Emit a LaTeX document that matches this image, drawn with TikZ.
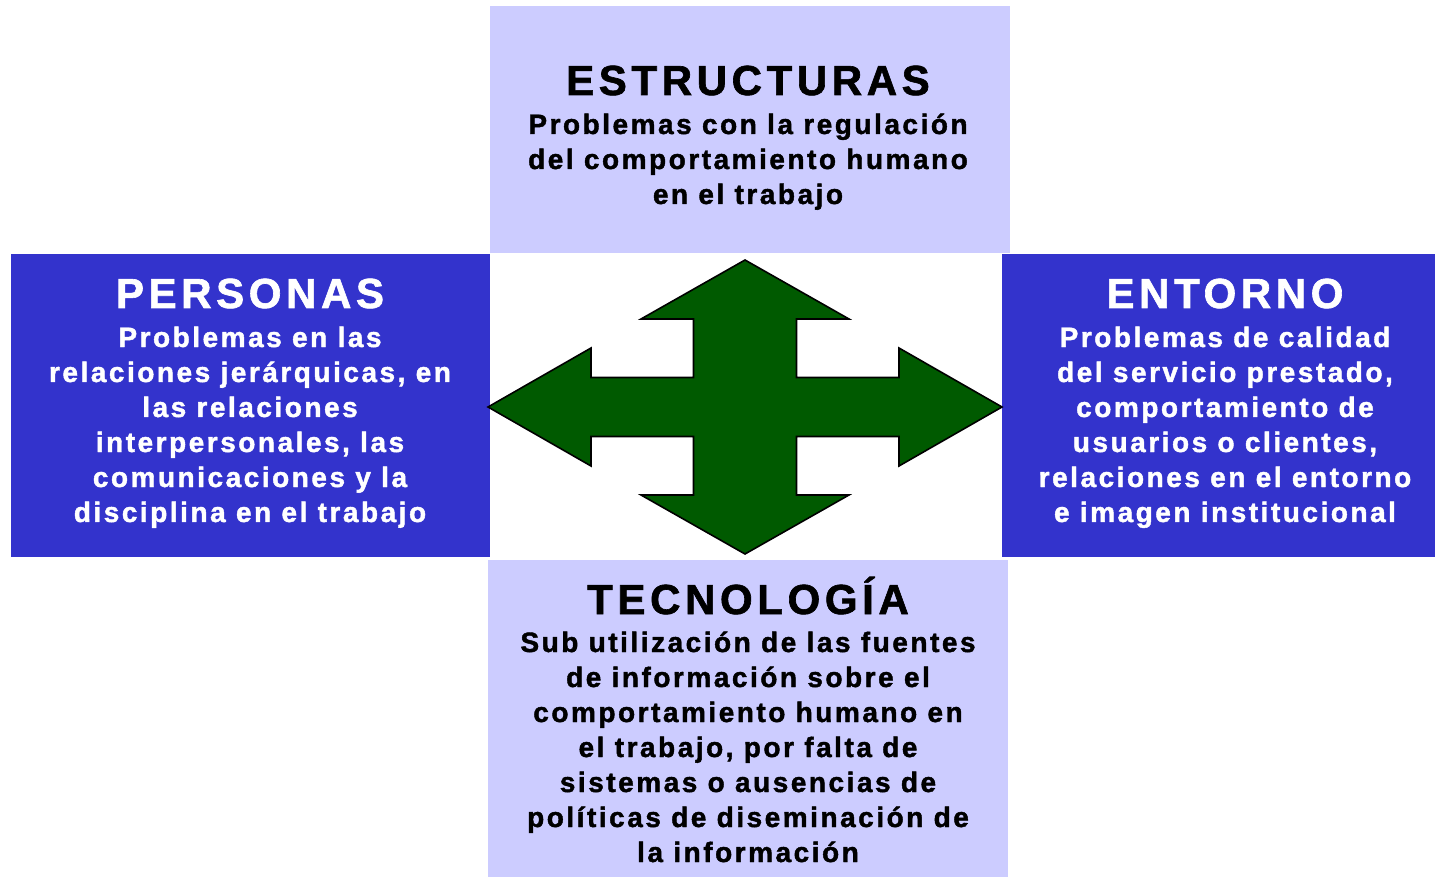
\documentclass[tikz,border=0pt]{standalone}
\usepackage{fontspec}
\setmainfont{Liberation Sans}
\newfontfamily\trk[LetterSpace=11,FakeBold=1.5]{Liberation Sans}
\newfontfamily\trkb[LetterSpace=9,FakeBold=1.5]{Liberation Sans}
\definecolor{lav}{RGB}{204,204,255}
\definecolor{blu}{RGB}{51,51,204}
\definecolor{grn}{RGB}{0,90,0}
\begin{document}
\begin{tikzpicture}[x=1pt,y=-1pt,
  box/.style={draw=none,inner sep=0pt,outer sep=0pt,anchor=north west},
  ttl/.style={anchor=base,inner sep=0pt,font=\trk\bfseries\fontsize{42}{42}\selectfont},
  bdy/.style={anchor=base,inner sep=0pt,font=\trkb\bfseries\fontsize{28}{35}\selectfont},
  arrowshape/.style={draw=black,line width=1.6pt,fill=grn,line join=miter}]
\useasboundingbox (0,0) rectangle (1435,877);
% boxes
\node[box,fill=lav,minimum width=520pt,minimum height=247pt] (estr) at (490,6) {};
\node[box,fill=blu,minimum width=479pt,minimum height=303pt] (pers) at (11,254) {};
\node[box,fill=blu,minimum width=433pt,minimum height=303pt] (ento) at (1002,254) {};
\node[box,fill=lav,minimum width=520pt,minimum height=317pt] (tecn) at (488,560) {};
% titles
\node[ttl,text=black] (estr-t) at (748,95) {ESTRUCTURAS};
\node[ttl,text=white] (pers-t) at (250,308) {PERSONAS};
\node[ttl,text=white] (ento-t) at (1225,308) {ENTORNO};
\node[ttl,text=black] (tecn-t) at (748,614) {TECNOLOGÍA};
% bodies
\node[bdy,text=black] (estr-b) at (748,134) {\parbox[t]{510pt}{\centering Problemas con la regulación\\del comportamiento humano\\en el trabajo}};
\node[bdy,text=white] (pers-b) at (250,347) {\parbox[t]{470pt}{\centering Problemas en las\\relaciones jerárquicas, en\\las relaciones\\interpersonales, las\\comunicaciones y la\\disciplina en el trabajo}};
\node[bdy,text=white] (ento-b) at (1225,347) {\parbox[t]{430pt}{\centering Problemas de calidad\\del servicio prestado,\\comportamiento de\\usuarios o clientes,\\relaciones en el entorno\\e imagen institucional}};
\node[bdy,text=black] (tecn-b) at (748,652) {\parbox[t]{510pt}{\centering Sub utilización de las fuentes\\de información sobre el\\comportamiento humano en\\el trabajo, por falta de\\sistemas o ausencias de\\políticas de diseminación de\\la información}};
% four-way arrow
\coordinate (c) at (745,407);
\draw[arrowshape,shift={(c)}] (0,-147) -- (104,-88) -- (51.5,-88) -- (51.5,-29.5) -- (154,-29.5) -- (154,-59) -- (257,0) -- (154,59) -- (154,29.5) -- (51.5,29.5) -- (51.5,88) -- (104,88) -- (0,147) -- (-104,88) -- (-51.5,88) -- (-51.5,29.5) -- (-154,29.5) -- (-154,59) -- (-257,0) -- (-154,-59) -- (-154,-29.5) -- (-51.5,-29.5) -- (-51.5,-88) -- (-104,-88) -- cycle;
\end{tikzpicture}
\end{document}
